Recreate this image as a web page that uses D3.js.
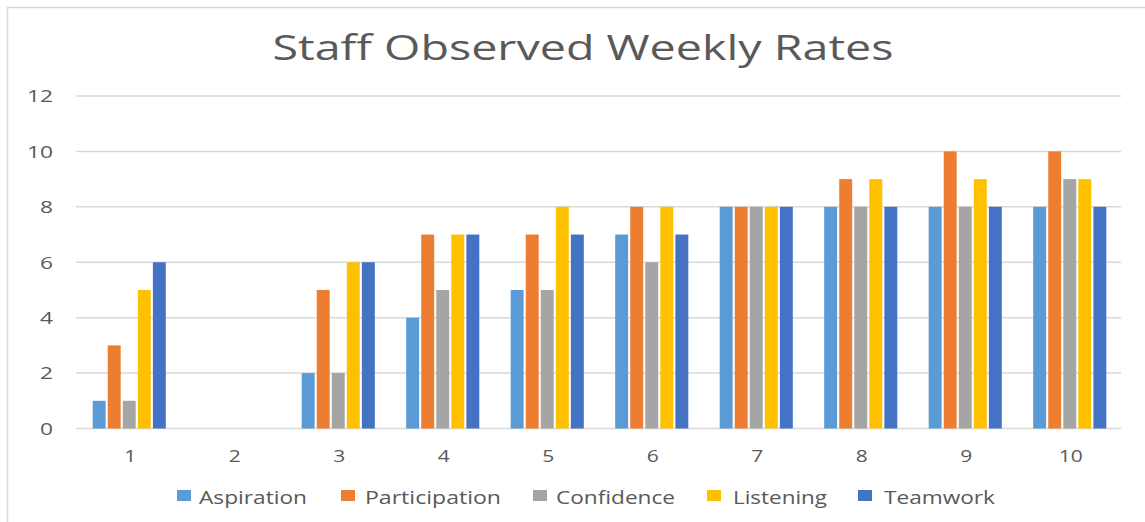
<!DOCTYPE html>
<html><head><meta charset="utf-8">
<script src="https://cdn.jsdelivr.net/npm/d3@7"></script>
<style>body{margin:0;background:#fff;}svg{display:block;font-family:"Open Sans",sans-serif;}</style>
</head><body><svg id="c" width="1145" height="522"></svg>
<script>
const categories = ["1","2","3","4","5","6","7","8","9","10"];
const seriesNames = ["Aspiration","Participation","Confidence","Listening","Teamwork"];
const colors = ["#5B9BD5","#ED7D31","#A5A5A5","#FFC000","#4472C4"];
const aspiration    = [1,0,2,4,5,7,8,8,8,8];
const participation = [3,0,5,7,7,8,8,9,10,10];
const confidence    = [1,0,2,5,5,6,8,8,8,9];
const listening     = [5,0,6,7,8,8,8,9,9,9];
const teamwork      = [6,0,6,7,7,7,8,8,8,8];
const yTicks = [0,2,4,6,8,10,12];
const title = "Staff Observed Weekly Rates";

(function(){
const seriesVals = [aspiration, participation, confidence, listening, teamwork];
const svg = d3.select("#c");
const txt = "#595959";
svg.append("rect").attr("x",7.5).attr("y",7.5).attr("width",1150).attr("height",530)
  .attr("fill","none").attr("stroke","#d9d9d9").attr("stroke-width",1.5);

const pL=76, pR=1121, pT=96, pB=428.5;
const x0 = d3.scaleBand().domain(categories).range([77,1122]).paddingInner(0.26).paddingOuter(0.13);
const x1 = d3.scaleBand().domain(seriesNames).range([0,x0.bandwidth()]).padding(0.14);
const y = d3.scaleLinear().domain([0,12]).range([pB,pT]);

svg.append("g").selectAll("line").data(yTicks).join("line")
  .attr("x1",pL).attr("x2",pR).attr("y1",d=>y(d)).attr("y2",d=>y(d))
  .attr("stroke","#d9d9d9").attr("stroke-width",1.5);

const yAxis = d3.axisLeft(y).tickValues(yTicks).tickSize(0).tickPadding(0);
const yg = svg.append("g").attr("transform",`translate(53,0)`).call(yAxis);
yg.select(".domain").remove();
yg.selectAll("text").attr("fill",txt).attr("font-size",16).attr("font-family","Open Sans, sans-serif")
  .attr("dy","0.36em").attr("textLength",d=>13*String(d).length).attr("lengthAdjust","spacingAndGlyphs");

const xAxis = d3.axisBottom(x0).tickSize(0).tickPadding(0);
const xg = svg.append("g").attr("transform",`translate(1,0)`).call(xAxis);
xg.select(".domain").remove();
xg.selectAll("text").attr("fill",txt).attr("font-size",16).attr("font-family","Open Sans, sans-serif")
  .attr("y",462).attr("dy",0).attr("textLength",d=>12*String(d).length).attr("lengthAdjust","spacingAndGlyphs");

const data = categories.map((c,i)=>({c, vals: seriesNames.map((s,j)=>({s, v: seriesVals[j][i], col: colors[j]}))}));
const groups = svg.append("g").selectAll("g").data(data).join("g")
  .attr("transform",d=>`translate(${x0(d.c)},0)`);
groups.selectAll("rect").data(d=>d.vals.filter(e=>e.v>0)).join("rect")
  .attr("x",d=>x1(d.s)).attr("width",x1.bandwidth())
  .attr("y",d=>y(d.v)).attr("height",d=>y(0)-y(d.v))
  .attr("fill",d=>d.col);

svg.append("text").attr("x",583).attr("y",60).attr("text-anchor","middle")
  .attr("font-size",35).attr("fill",txt).attr("textLength",621).attr("lengthAdjust","spacingAndGlyphs").text(title);

const legSw = [177,341,533,707,858];
const legTx = [199,365,556,733,884];
const legW  = [108,136,119,94,111];
const lg = svg.append("g").selectAll("g").data(seriesNames).join("g");
lg.append("rect").attr("x",(d,i)=>legSw[i]).attr("y",490).attr("width",14).attr("height",11).attr("fill",(d,i)=>colors[i]);
lg.append("text").attr("x",(d,i)=>legTx[i]).attr("y",504).attr("font-size",18).attr("fill",txt)
  .attr("textLength",(d,i)=>legW[i]).attr("lengthAdjust","spacingAndGlyphs").text(d=>d);
})();
</script></body></html>
